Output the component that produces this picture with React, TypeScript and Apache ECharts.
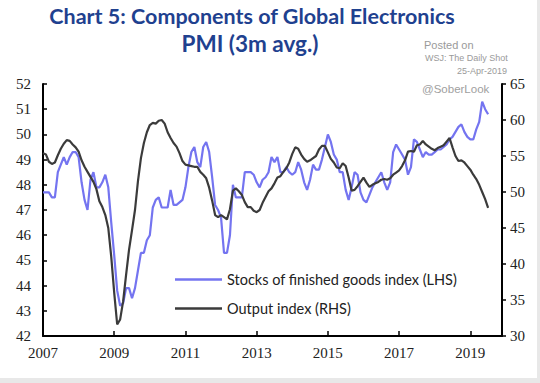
import React, { useEffect, useRef } from "react";
import * as echarts from "echarts";

const startYear = 2007;
const stocksLHS = [
  47.7, 47.7, 47.7, 47.5, 47.5, 48.5, 48.8, 49.1, 48.8, 49.1, 49.3, 49.3,
  49.1, 48.1, 47.4, 47.0, 48.2, 48.5, 47.9, 47.9, 48.1, 48.4, 47.9, 46.5,
  45.2, 43.8, 43.2, 43.3, 43.9, 43.9, 43.5, 43.9, 44.6, 45.3, 45.3, 45.8,
  46.0, 47.1, 47.4, 47.5, 47.1, 47.1, 47.1, 47.8, 47.2, 47.2, 47.3, 47.4,
  47.9, 48.7, 49.3, 49.5, 48.9, 48.7, 49.5, 49.7, 49.3, 48.3, 47.2, 47.0,
  46.7, 45.3, 45.3, 46.0, 48.0, 47.5, 47.5, 47.5, 48.5, 48.5, 48.5, 48.4,
  48.1, 47.9, 48.2, 48.3, 48.5, 49.1, 48.9, 49.1, 48.5, 48.5, 48.7, 48.5,
  48.4, 48.5, 48.9, 48.6, 48.1, 47.8, 48.2, 48.8, 48.6, 48.6, 49.0, 49.5,
  50.0, 49.7, 49.2, 49.0, 48.5, 48.5, 47.8, 47.4, 47.9, 48.5, 48.4, 47.7,
  47.4, 47.3, 47.6, 47.9, 48.1, 48.3, 48.5, 48.1, 47.8, 48.1, 49.3, 49.6,
  49.4, 49.2, 49.0, 48.4, 48.7, 49.8, 49.7, 49.4, 49.1, 49.3, 49.2, 49.2,
  49.3, 49.4, 49.4, 49.5, 49.6, 49.8, 49.9, 50.1, 50.3, 50.4, 50.1, 49.9,
  49.8, 49.8, 50.2, 50.5, 51.3, 51.0, 50.8,
];
const outputRHS = [
  55.4, 55.2, 54.2, 53.9, 54.1, 55.1, 56.0, 56.7, 57.2, 57.1, 56.6, 56.2,
  55.6, 54.4, 53.5, 52.8, 52.1, 51.4, 50.4, 48.7, 47.9, 46.8, 45.0, 41.0,
  36.0, 31.6, 32.3, 34.8, 38.5, 42.0, 44.7, 47.5, 51.5, 54.7, 56.8, 58.3,
  59.3, 59.6, 59.5, 59.9, 60.0, 59.5, 58.3, 57.5, 56.8, 56.3, 55.4, 54.3,
  53.8, 53.7, 53.6, 53.5, 53.5, 52.8, 52.4, 51.9, 50.6, 48.8, 46.8, 46.5,
  46.8, 46.5, 46.2, 47.6, 50.2, 50.5, 50.1, 49.6, 48.6, 47.9, 47.9, 47.4,
  47.2, 47.5, 48.5, 49.3, 50.1, 50.5, 51.2, 52.0, 52.2, 52.8, 53.3, 54.1,
  55.3, 56.2, 56.0, 55.2, 54.6, 54.2, 54.4, 54.7, 55.0, 55.9, 56.4, 56.4,
  55.5, 54.6, 54.1, 53.4, 53.3, 54.0, 53.6, 52.0, 50.2, 50.3, 50.8, 51.4,
  52.0, 51.3, 50.7, 51.0, 51.2, 51.4, 51.7, 51.8, 51.7, 51.9, 52.4, 52.7,
  53.0, 53.6, 54.4, 55.6, 55.7, 55.6, 56.5, 56.6, 57.1, 56.6, 56.3, 56.0,
  55.8, 56.1, 56.3, 56.5, 57.0, 57.5, 56.2, 55.0, 54.3, 54.4, 54.1, 53.6,
  53.1, 52.4, 51.8, 51.0, 50.0, 49.0, 47.8,
];
const seriesNames = ["Stocks of finished goods index (LHS)", "Output index (RHS)"];
const titleLines = ["Chart 5: Components of Global Electronics", "PMI (3m avg.)"];
const sourceLines = ["Posted on", "WSJ: The Daily Shot", "25-Apr-2019"];
const handle = "@SoberLook";

const serif = "'Liberation Serif', serif";
const sans = "Lato, 'Open Sans', sans-serif";

export default function App() {
  const ref = useRef<HTMLDivElement>(null);
  useEffect(() => {
    if (!ref.current) return;
    const chart = echarts.init(ref.current, null, { renderer: "svg" });
    const toPairs = (arr: number[]) => arr.map((v, i) => [startYear + i / 12, v]);
    chart.setOption({
      animation: false,
      backgroundColor: "#ffffff",
      grid: { left: 43, right: 38, top: 84, bottom: 47 },
      xAxis: {
        type: "value",
        min: 2007,
        max: 2019.89,
        interval: 2,
        axisLine: { lineStyle: { color: "#000", width: 2 } },
        axisTick: { inside: true, length: 5, lineStyle: { color: "#000", width: 1.5 } },
        axisLabel: {
          color: "#222",
          fontFamily: serif,
          fontSize: 15,
          margin: 9,
          showMaxLabel: false,
          formatter: (v: number) => (Math.abs(v - Math.round(v)) < 1e-6 ? String(Math.round(v)) : ""),
        },
        splitLine: { show: false },
      },
      yAxis: [
        {
          type: "value",
          min: 42,
          max: 52,
          interval: 1,
          position: "left",
          axisLine: { show: true, lineStyle: { color: "#000", width: 2 } },
          axisTick: { show: true, inside: true, length: 4, lineStyle: { color: "#000", width: 1.5 } },
          axisLabel: { color: "#222", fontFamily: serif, fontSize: 15, margin: 12 },
          splitLine: { show: false },
        },
        {
          type: "value",
          min: 30,
          max: 65,
          interval: 5,
          position: "right",
          axisLine: { show: true, lineStyle: { color: "#000", width: 2 } },
          axisTick: { show: true, inside: false, length: 4, lineStyle: { color: "#000", width: 1.5 } },
          axisLabel: { color: "#222", fontFamily: serif, fontSize: 15, margin: 8 },
          splitLine: { show: false },
        },
      ],
      legend: {
        orient: "vertical",
        left: 175,
        top: 272,
        padding: 0,
        itemGap: 14,
        itemWidth: 47,
        itemHeight: 2.5,
        icon: "rect",
        textStyle: { fontFamily: sans, fontSize: 14.5, color: "#222" },
        data: seriesNames,
      },
      series: [
        {
          name: seriesNames[0],
          type: "line",
          yAxisIndex: 0,
          showSymbol: false,
          data: toPairs(stocksLHS),
          lineStyle: { color: "#7474f0", width: 2.2 },
          itemStyle: { color: "#7474f0" },
        },
        {
          name: seriesNames[1],
          type: "line",
          yAxisIndex: 1,
          showSymbol: false,
          data: toPairs(outputRHS),
          lineStyle: { color: "#3b3b3b", width: 2.2 },
          itemStyle: { color: "#3b3b3b" },
        },
      ],
      graphic: [
        {
          type: "text",
          x: 252,
          y: 5,
          style: {
            text: titleLines[0],
            fontFamily: sans,
            fontWeight: "bold",
            fontSize: 21.5,
            fill: "#1f418f",
            align: "center",
          },
        },
        {
          type: "text",
          x: 250,
          y: 32,
          style: {
            text: titleLines[1],
            fontFamily: sans,
            fontWeight: "bold",
            fontSize: 22.5,
            fill: "#1f418f",
            align: "center",
          },
        },
        {
          type: "text",
          x: 424,
          y: 39,
          style: { text: sourceLines[0], fontFamily: "Arial, 'Liberation Sans', sans-serif", fontSize: 11, fill: "#9a9a9a" },
        },
        {
          type: "text",
          x: 425,
          y: 53,
          style: { text: sourceLines[1], fontFamily: "Arial, 'Liberation Sans', sans-serif", fontSize: 9, fill: "#9a9a9a" },
        },
        {
          type: "text",
          x: 507,
          y: 66,
          style: { text: sourceLines[2], fontFamily: "Arial, 'Liberation Sans', sans-serif", fontSize: 9, fill: "#9a9a9a", align: "right" },
        },
        {
          type: "text",
          x: 422,
          y: 83,
          style: { text: handle, fontFamily: "Arial, 'Liberation Sans', sans-serif", fontSize: 11.5, fill: "#a0a0a0" },
        },
        {
          type: "line",
          shape: { x1: 538.5, y1: 0, x2: 538.5, y2: 383 },
          style: { stroke: "#e8e8e8", lineWidth: 3 },
        },
        {
          type: "line",
          shape: { x1: 0, y1: 380.5, x2: 540, y2: 380.5 },
          style: { stroke: "#e8e8e8", lineWidth: 5 },
        },
      ],
    });
    return () => chart.dispose();
  }, []);
  return (
    <div
      ref={ref}
      style={{ position: "fixed", left: 0, top: 0, width: 540, height: 383, background: "#fff" }}
    />
  );
}
